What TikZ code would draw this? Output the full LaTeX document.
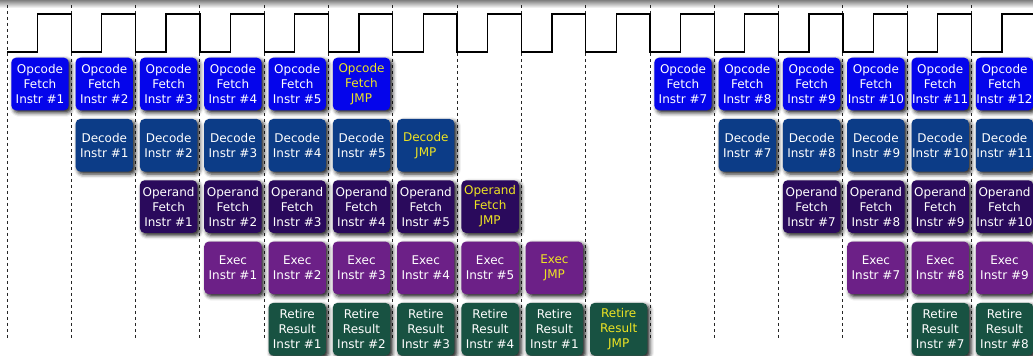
\documentclass[tikz,border=0pt]{standalone}
\usepackage{fontspec}
\setmainfont{DejaVu Sans}
\usetikzlibrary{shadows.blur}

\definecolor{fetchblue}{RGB}{5,5,235}
\definecolor{decodeblue}{RGB}{12,60,135}
\definecolor{operandpurple}{RGB}{42,10,92}
\definecolor{execpurple}{RGB}{108,32,135}
\definecolor{retiregreen}{RGB}{24,82,66}
\definecolor{jmpyellow}{RGB}{238,228,35}

\tikzset{
  stage/.style={rounded corners=3.5pt, text=white, align=center, inner sep=0pt,
    minimum width=43pt, minimum height=39.5pt,
    font=\fontsize{9}{11.25}\selectfont,
    blur shadow={shadow xshift=1.8pt, shadow yshift=-1.8pt, shadow blur radius=3pt, shadow opacity=90}},
  fetch/.style={stage, fill=fetchblue},
  decode/.style={stage, fill=decodeblue},
  operand/.style={stage, fill=operandpurple},
  exec/.style={stage, fill=execpurple},
  retire/.style={stage, fill=retiregreen},
  jmp/.style={text=jmpyellow},
  tick/.style={dash pattern=on 2pt off 2.5pt, line width=0.7pt, black!85},
  clock/.style={line width=1pt, black}
}

\begin{document}
\begin{tikzpicture}[x=0.75pt, y=-0.75pt]

  \useasboundingbox (0,0) rectangle (1033,356);

  % top shade
  \shade[top color=black!50, bottom color=white] (0,0) rectangle (1033,8);

  % clock ticks
  \draw[tick] (7,5) -- (7,340);
  \draw[tick] (71.3,5) -- (71.3,340);
  \draw[tick] (135.6,5) -- (135.6,340);
  \draw[tick] (199.9,5) -- (199.9,340);
  \draw[tick] (264.2,5) -- (264.2,340);
  \draw[tick] (328.5,5) -- (328.5,340);
  \draw[tick] (392.8,5) -- (392.8,340);
  \draw[tick] (457.1,5) -- (457.1,340);
  \draw[tick] (521.4,5) -- (521.4,340);
  \draw[tick] (585.7,5) -- (585.7,340);
  \draw[tick] (650,5) -- (650,340);
  \draw[tick] (714.3,5) -- (714.3,340);
  \draw[tick] (778.6,5) -- (778.6,340);
  \draw[tick] (842.9,5) -- (842.9,340);
  \draw[tick] (907.2,5) -- (907.2,340);
  \draw[tick] (971.5,5) -- (971.5,340);

  % clock
  \draw[clock] (7,52) -| (37.5,14) -| (71.3,52) -| (101.8,14) -| (135.6,52)
    -| (166.1,14) -| (199.9,52) -| (230.4,14) -| (264.2,52) -| (294.7,14)
    -| (328.5,52) -| (359,14) -| (392.8,52) -| (423.3,14) -| (457.1,52)
    -| (487.6,14) -| (521.4,52) -| (551.9,14) -| (585.7,52) -| (616.2,14)
    -| (650,52) -| (680.5,14) -| (714.3,52) -| (744.8,14) -| (778.6,52)
    -| (809.1,14) -| (842.9,52) -| (873.4,14) -| (907.2,52) -| (937.7,14)
    -| (971.5,52) -| (1002,14) -- (1033,14);

  % opcode fetch
  \node[fetch] (of1) at (40,84) {Opcode\\Fetch\\Instr \#1};
  \node[fetch] (of2) at (104.3,84) {Opcode\\Fetch\\Instr \#2};
  \node[fetch] (of3) at (168.6,84) {Opcode\\Fetch\\Instr \#3};
  \node[fetch] (of4) at (232.9,84) {Opcode\\Fetch\\Instr \#4};
  \node[fetch] (of5) at (297.2,84) {Opcode\\Fetch\\Instr \#5};
  \node[fetch, jmp] (ofj) at (361.5,84) {Opcode\\Fetch\\JMP};
  \node[fetch] (of7) at (683,84) {Opcode\\Fetch\\Instr \#7};
  \node[fetch] (of8) at (747.3,84) {Opcode\\Fetch\\Instr \#8};
  \node[fetch] (of9) at (811.6,84) {Opcode\\Fetch\\Instr \#9};
  \node[fetch] (of10) at (875.9,84) {Opcode\\Fetch\\Instr \#10};
  \node[fetch] (of11) at (940.2,84) {Opcode\\Fetch\\Instr \#11};
  \node[fetch] (of12) at (1004.5,84) {Opcode\\Fetch\\Instr \#12};

  % decode
  \node[decode] (de1) at (104.3,145.3) {Decode\\Instr \#1};
  \node[decode] (de2) at (168.6,145.3) {Decode\\Instr \#2};
  \node[decode] (de3) at (232.9,145.3) {Decode\\Instr \#3};
  \node[decode] (de4) at (297.2,145.3) {Decode\\Instr \#4};
  \node[decode] (de5) at (361.5,145.3) {Decode\\Instr \#5};
  \node[decode, jmp] (dej) at (425.8,145.3) {Decode\\JMP};
  \node[decode] (de7) at (747.3,145.3) {Decode\\Instr \#7};
  \node[decode] (de8) at (811.6,145.3) {Decode\\Instr \#8};
  \node[decode] (de9) at (875.9,145.3) {Decode\\Instr \#9};
  \node[decode] (de10) at (940.2,145.3) {Decode\\Instr \#10};
  \node[decode] (de11) at (1004.5,145.3) {Decode\\Instr \#11};

  % operand fetch
  \node[operand] (op1) at (168.6,206.6) {Operand\\Fetch\\Instr \#1};
  \node[operand] (op2) at (232.9,206.6) {Operand\\Fetch\\Instr \#2};
  \node[operand] (op3) at (297.2,206.6) {Operand\\Fetch\\Instr \#3};
  \node[operand] (op4) at (361.5,206.6) {Operand\\Fetch\\Instr \#4};
  \node[operand] (op5) at (425.8,206.6) {Operand\\Fetch\\Instr \#5};
  \node[operand, jmp] (opj) at (490.1,206.6) {Operand\\Fetch\\JMP};
  \node[operand] (op7) at (811.6,206.6) {Operand\\Fetch\\Instr \#7};
  \node[operand] (op8) at (875.9,206.6) {Operand\\Fetch\\Instr \#8};
  \node[operand] (op9) at (940.2,206.6) {Operand\\Fetch\\Instr \#9};
  \node[operand] (op10) at (1004.5,206.6) {Operand\\Fetch\\Instr \#10};

  % exec
  \node[exec] (ex1) at (232.9,267.9) {Exec\\Instr \#1};
  \node[exec] (ex2) at (297.2,267.9) {Exec\\Instr \#2};
  \node[exec] (ex3) at (361.5,267.9) {Exec\\Instr \#3};
  \node[exec] (ex4) at (425.8,267.9) {Exec\\Instr \#4};
  \node[exec] (ex5) at (490.1,267.9) {Exec\\Instr \#5};
  \node[exec, jmp] (exj) at (554.4,267.9) {Exec\\JMP};
  \node[exec] (ex7) at (875.9,267.9) {Exec\\Instr \#7};
  \node[exec] (ex8) at (940.2,267.9) {Exec\\Instr \#8};
  \node[exec] (ex9) at (1004.5,267.9) {Exec\\Instr \#9};

  % retire result
  \node[retire] (rt1) at (297.2,329.2) {Retire\\Result\\Instr \#1};
  \node[retire] (rt2) at (361.5,329.2) {Retire\\Result\\Instr \#2};
  \node[retire] (rt3) at (425.8,329.2) {Retire\\Result\\Instr \#3};
  \node[retire] (rt4) at (490.1,329.2) {Retire\\Result\\Instr \#4};
  \node[retire] (rt5) at (554.4,329.2) {Retire\\Result\\Instr \#1};
  \node[retire, jmp] (rtj) at (618.7,329.2) {Retire\\Result\\JMP};
  \node[retire] (rt7) at (940.2,329.2) {Retire\\Result\\Instr \#7};
  \node[retire] (rt8) at (1004.5,329.2) {Retire\\Result\\Instr \#8};

\end{tikzpicture}
\end{document}
